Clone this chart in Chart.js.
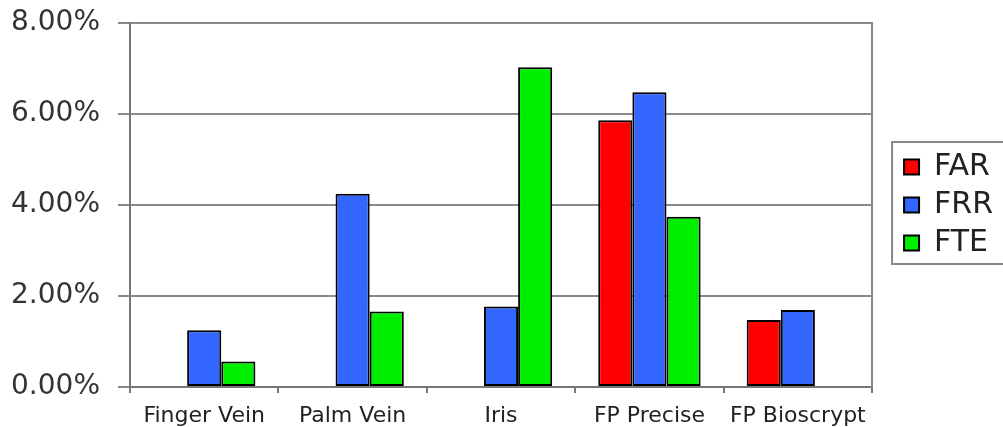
<!DOCTYPE html>
<html>
<head>
<meta charset="utf-8">
<script src="https://cdn.jsdelivr.net/npm/chart.js@4"></script>
<style>
  body { margin: 0; background: #fff; }
  #wrap { width: 1003px; height: 427px; }
</style>
</head>
<body>
<div id="wrap"><canvas id="myChart"></canvas></div>
<script>
// dane z wykresu (w procentach)
const categories = ['Finger Vein', 'Palm Vein', 'Iris', 'FP Precise', 'FP Bioscrypt'];
const farValues = [null, null, null, 5.86, 1.47];
const frrValues = [1.25, 4.25, 1.77, 6.48, 1.69];
const fteValues = [0.56, 1.66, 7.03, 3.74, null];
const yTicks = [0, 2, 4, 6, 8];

const FONT = 'DejaVu Sans';

// ramka wokół legendy
const legendBorder = {
    id: 'legendBorder',
    afterDraw(chart) {
        const boxes = chart.legend.legendHitBoxes;
        if (!boxes || !boxes.length) return;
        const first = boxes[0];
        const last = boxes[boxes.length - 1];
        const ctx = chart.ctx;
        ctx.save();
        ctx.strokeStyle = '#888';
        ctx.lineWidth = 2;
        ctx.strokeRect(first.left - 12, first.top - 10, 1020 - first.left, last.top + last.height + 16 - first.top);
        ctx.restore();
    }
};

const ctx = document.getElementById('myChart').getContext('2d');
const chart = new Chart(ctx, {
    type: 'bar',
    data: {
        labels: categories,
        datasets: [
            { label: 'FAR', data: farValues, backgroundColor: '#ff0000' },
            { label: 'FRR', data: frrValues, backgroundColor: '#3366ff' },
            { label: 'FTE', data: fteValues, backgroundColor: '#00ee00' }
        ]
    },
    options: {
        responsive: true,
        maintainAspectRatio: false,
        animation: false,
        datasets: {
            bar: {
                borderColor: '#000',
                borderWidth: 2,
                borderSkipped: false,
                categoryPercentage: 0.69,
                barPercentage: 1.0
            }
        },
        layout: { padding: { left: 0, top: 0, right: 0, bottom: 0 } },
        plugins: {
            tooltip: { enabled: false },
            legend: {
                position: 'right',
                fullSize: false,
                labels: {
                    boxWidth: 15,
                    boxHeight: 15,
                    padding: 8,
                    color: '#222',
                    font: { family: FONT, size: 30 }
                }
            }
        },
        scales: {
            x: {
                grid: {
                    offset: true,
                    drawOnChartArea: false,
                    tickLength: 6,
                    color: '#777',
                    lineWidth: 2
                },
                border: { color: '#777', width: 2 },
                ticks: {
                    color: '#222',
                    padding: 10,
                    maxRotation: 0,
                    font: { family: FONT, size: 22 }
                },
                afterFit(scale) { scale.height = 40; }
            },
            y: {
                min: 0,
                max: 8,
                afterBuildTicks(scale) {
                    scale.ticks = yTicks.map(v => ({ value: v }));
                },
                grid: { color: '#8a8a8a', lineWidth: 2, tickLength: 12 },
                border: { color: '#777', width: 2 },
                ticks: {
                    color: '#333',
                    padding: 18,
                    font: { family: FONT, size: 28 },
                    callback: v => v.toFixed(2) + '%'
                },
                afterFit(scale) {
                    scale.width = 130;
                    scale.paddingTop = 23;
                    scale.paddingBottom = 0;
                }
            },
            // prawa krawędź wykresu
            y2: {
                position: 'right',
                min: 0,
                max: 8,
                grid: { drawOnChartArea: false, drawTicks: false },
                border: { color: '#888', width: 2 },
                ticks: { display: false },
                afterFit(scale) { scale.width = 24; }
            }
        }
    },
    plugins: [legendBorder]
});
</script>
</body>
</html>
